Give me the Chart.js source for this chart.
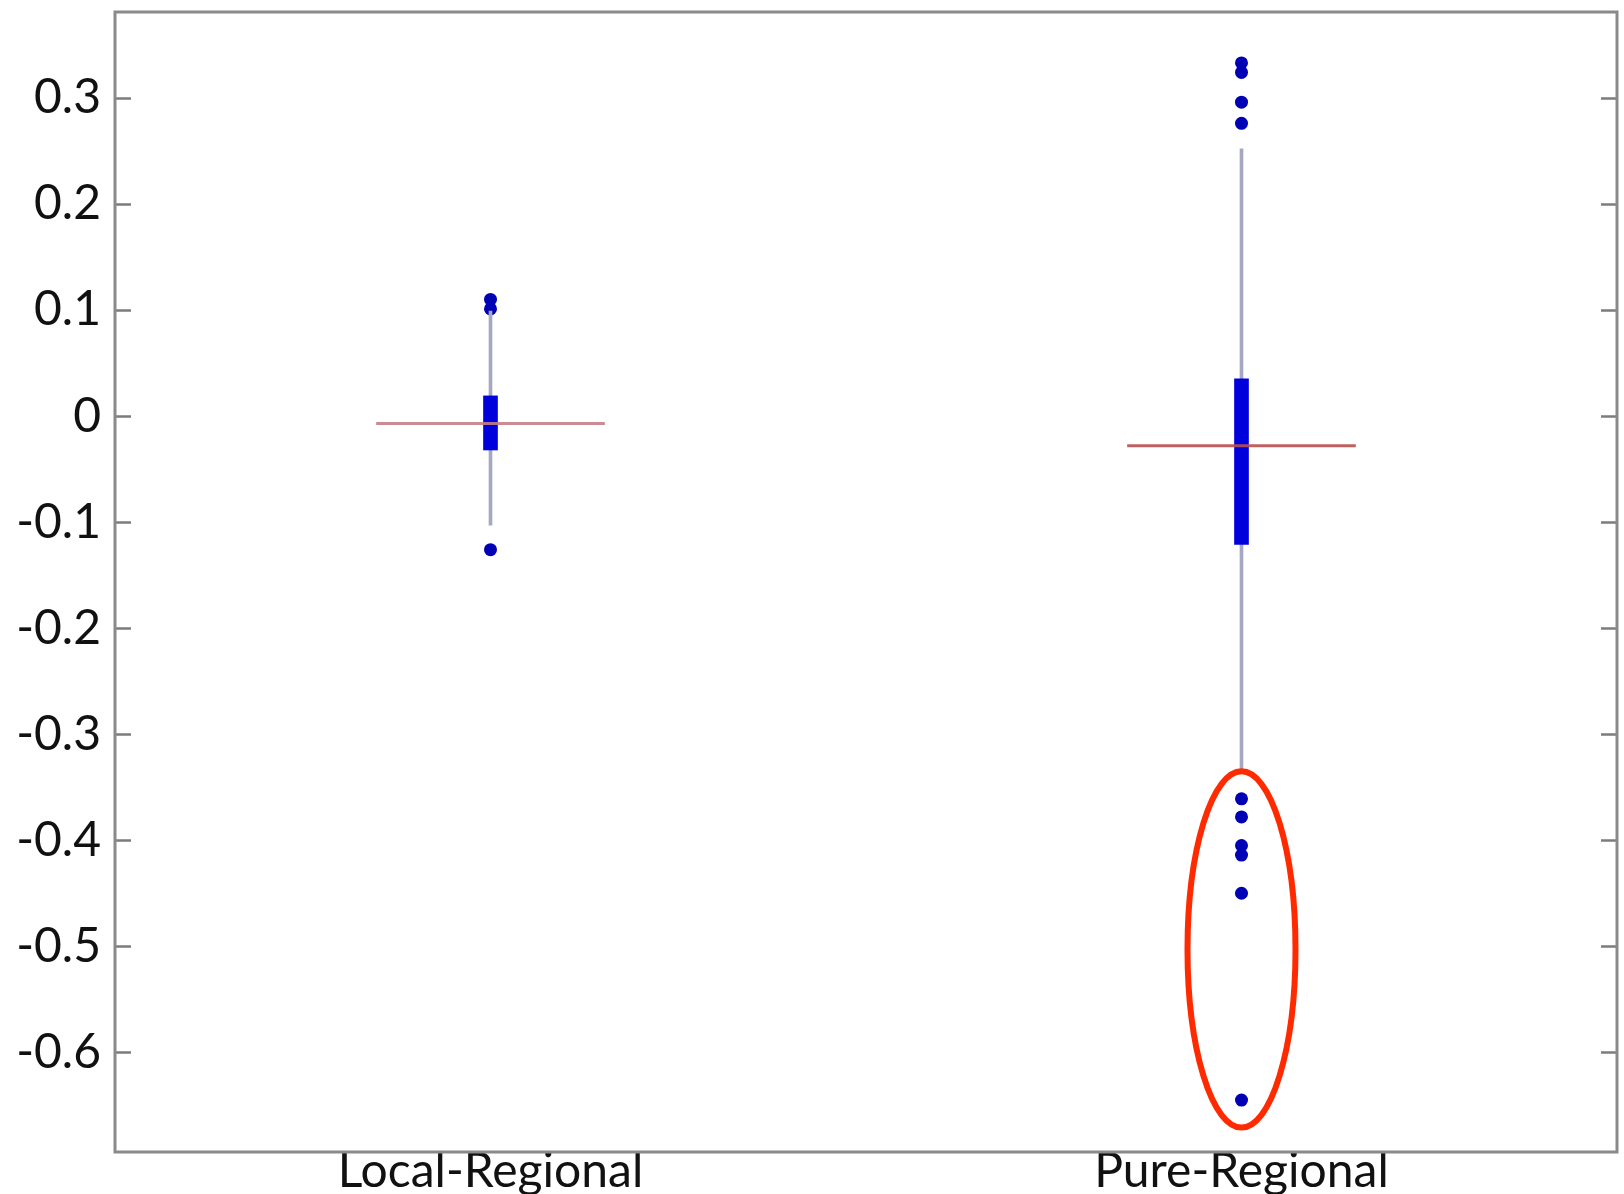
<!DOCTYPE html>
<html>
<head>
<meta charset="utf-8">
<script src="https://cdn.jsdelivr.net/npm/chart.js@4.4.0/dist/chart.umd.min.js"></script>
<style>
  html, body { margin: 0; padding: 0; background: #fff; }
  #wrap { width: 1624px; height: 1194px; }
</style>
</head>
<body>
<div id="wrap"><canvas id="box" width="1624" height="1194"></canvas></div>
<script>
// categories and box statistics
const groups = ['Local-Regional', 'Pure-Regional'];
const whiskerLow = [-0.103, -0.335];
const q1 = [-0.032, -0.121];
const median = [-0.007, -0.028];
const q3 = [0.019, 0.035];
const whiskerHigh = [0.099, 0.252];

// outliers per group
const localOutliers = [0.110, 0.101, -0.126];
const pureOutliers = [0.333, 0.324, 0.296, 0.276, -0.361, -0.378, -0.405, -0.414, -0.450, -0.645];

// y axis
const yMin = -0.694;
const yMax = 0.381;
const yTickValues = [-0.6, -0.5, -0.4, -0.3, -0.2, -0.1, 0, 0.1, 0.2, 0.3];

// red ring marking the low outliers
const ringGroup = 'Pure-Regional';
const ringTop = -0.335;
const ringBottom = -0.671;

const outlierPoints = localOutliers.map(v => ({ x: groups[0], y: v }))
    .concat(pureOutliers.map(v => ({ x: groups[1], y: v })));

const medianHalf = 0.0011;

var frame = {
    id: 'frame',
    afterDatasetsDraw(chart) {
        const ctx = chart.ctx;
        const a = chart.chartArea;
        const y = chart.scales.y;
        const x = chart.scales.x;
        ctx.save();
        // inward tick marks on both sides
        ctx.strokeStyle = '#7c7c7c';
        ctx.lineWidth = 2.5;
        y.ticks.forEach(t => {
            const py = Math.round(y.getPixelForValue(t.value)) + 0.5;
            ctx.beginPath();
            ctx.moveTo(a.left, py); ctx.lineTo(a.left + 16, py);
            ctx.moveTo(a.right, py); ctx.lineTo(a.right - 16, py);
            ctx.stroke();
        });
        // box round the plot
        ctx.strokeStyle = '#8a8a8a';
        ctx.lineWidth = 3;
        ctx.strokeRect(a.left, a.top, a.right - a.left, a.bottom - a.top);
        // red ellipse
        const cx = x.getPixelForValue(groups.indexOf(ringGroup));
        const top = y.getPixelForValue(ringTop);
        const bottom = y.getPixelForValue(ringBottom);
        ctx.strokeStyle = '#ff2a00';
        ctx.lineWidth = 6;
        ctx.beginPath();
        ctx.ellipse(cx, (top + bottom) / 2, 54, (bottom - top) / 2, 0, 0, Math.PI * 2);
        ctx.stroke();
        ctx.restore();
    }
};

var chart = new Chart(document.getElementById('box').getContext('2d'), {
    type: 'bar',
    data: {
        labels: groups,
        datasets: [{
            label: 'median',
            data: median.map(m => [m - medianHalf, m + medianHalf]),
            backgroundColor: ['rgba(196,128,134,0.9)', 'rgba(184,80,80,0.9)'],
            barThickness: 228,
            grouped: false
        }, {
            label: 'box',
            data: q1.map((v, i) => [v, q3[i]]),
            backgroundColor: '#0000dc',
            barThickness: 14,
            grouped: false
        }, {
            label: 'whisker',
            data: whiskerLow.map((v, i) => [v, whiskerHigh[i]]),
            backgroundColor: '#a6a8c2',
            barThickness: 3,
            grouped: false
        }, {
            type: 'line',
            label: 'outliers',
            data: outlierPoints,
            showLine: false,
            pointRadius: 6.5,
            pointBackgroundColor: '#0000b4',
            pointBorderWidth: 0
        }]
    },
    options: {
        responsive: false,
        devicePixelRatio: 1,
        animation: false,
        layout: { padding: { top: 12, right: 7, left: 0, bottom: 0 } },
        plugins: {
            legend: { display: false },
            tooltip: { enabled: false }
        },
        scales: {
            x: {
                offset: true,
                grid: { display: false, drawTicks: false },
                border: { display: false },
                ticks: {
                    padding: -9,
                    color: '#111',
                    font: { family: 'Lato', size: 48 }
                },
                afterFit: s => { s.height = 42; s.paddingLeft = 0; s.paddingRight = 0; }
            },
            y: {
                min: yMin,
                max: yMax,
                grid: { display: false, drawTicks: false },
                border: { display: false },
                afterBuildTicks: s => { s.ticks = yTickValues.map(v => ({ value: v })); },
                ticks: {
                    padding: 14,
                    color: '#111',
                    font: { family: 'Lato', size: 48 },
                    callback: v => v === 0 ? '0' : v.toFixed(1)
                },
                afterFit: s => { s.width = 115; s.paddingTop = 0; s.paddingBottom = 0; }
            }
        }
    },
    plugins: [frame]
});
</script>
</body>
</html>
